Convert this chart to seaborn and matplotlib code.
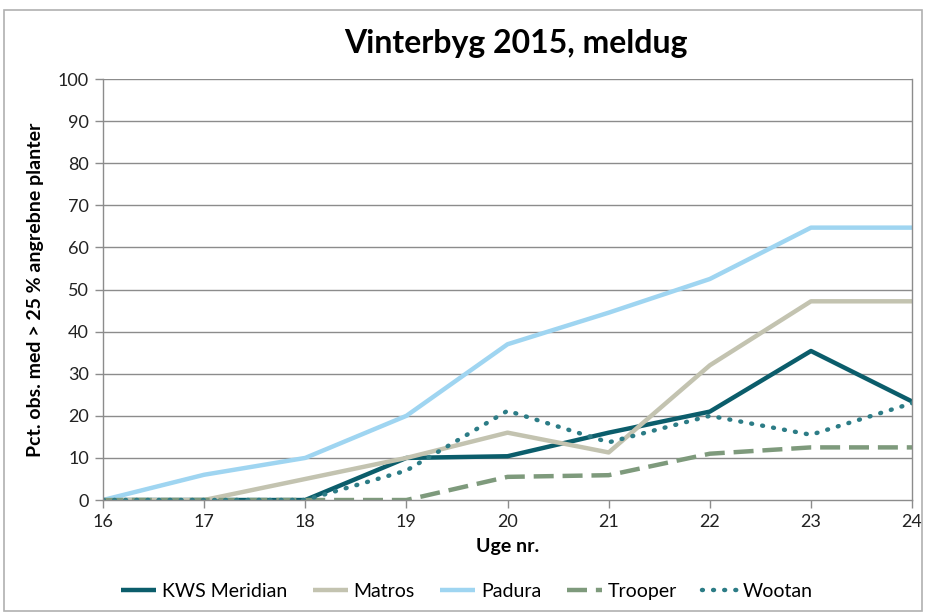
import matplotlib
matplotlib.use("Agg")
import matplotlib.pyplot as plt
import seaborn as sns
import pandas as pd
from matplotlib.patches import Rectangle

# data
uger = [16, 17, 18, 19, 20, 21, 22, 23, 24]
kws_meridian = [0, 0, 0, 10, 10.4, 16, 21, 35.4, 23.4]
matros = [0, 0, 5, 10, 16, 11.3, 32, 47.2, 47.2]
padura = [0, 6, 10, 20, 37, 44.5, 52.5, 64.7, 64.7]
trooper = [0, 0, 0, 0, 5.5, 5.9, 11, 12.5, 12.5]
wootan = [0, 0, 0, 7, 21.2, 13.7, 20, 15.5, 23]

sorter = ["KWS Meridian", "Matros", "Padura", "Trooper", "Wootan"]
farver = ["#0b5d6b", "#c3c3b0", "#9fd5f1", "#7e9a7c", "#2c7c86"]

df = pd.DataFrame({"Uge": uger, "KWS Meridian": kws_meridian, "Matros": matros,
                   "Padura": padura, "Trooper": trooper, "Wootan": wootan})
long = df.melt(id_vars="Uge", var_name="Sort", value_name="Pct")

sns.set_style("white")
plt.rcParams['font.family'] = ['Lato', 'DejaVu Sans']
plt.rcParams['text.color'] = 'black'

fig = plt.figure(figsize=(9.26, 6.13), dpi=100)
ax = fig.add_axes([0.1112, 0.1843, 0.8738, 0.6868])

# gridlines
for y in range(10, 101, 10):
    ax.axhline(y, color="#8c8c8c", lw=1, zorder=0)

stile = {"KWS Meridian": "-", "Matros": "-", "Padura": "-",
         "Trooper": (0, (4.5, 2.0)), "Wootan": (0, (0.2, 2.3))}
for sort, farve in zip(sorter, farver):
    d = long[long["Sort"] == sort]
    kw = dict(solid_capstyle="butt")
    if sort == "Wootan":
        kw = dict(dash_capstyle="round")
    sns.lineplot(data=d, x="Uge", y="Pct", ax=ax, color=farve, lw=3.2,
                 linestyle=stile[sort], label=sort, **kw)

ax.set_xlim(16, 24)
ax.set_ylim(0, 100)
ax.set_xticks(uger)
ax.set_yticks(range(0, 101, 10))
ax.tick_params(axis="both", direction="out", length=6, width=1, color="#8c8c8c",
               labelsize=13, labelcolor="#222222", pad=4, bottom=True, left=True)
for side in ["left", "bottom", "right"]:
    ax.spines[side].set_color("#8c8c8c")
    ax.spines[side].set_linewidth(1)
ax.spines["top"].set_visible(False)

ax.set_xlabel("Uge nr.", fontsize=14, fontweight="bold", labelpad=6, color="black")
ax.set_ylabel("Pct. obs. med > 25 % angrebne planter", fontsize=14, fontweight="bold",
              labelpad=10, color="black")
fig.suptitle("Vinterbyg 2015, meldug", x=0.557, y=0.952, fontsize=23, fontweight="bold")

ax.legend(loc="upper center", bbox_to_anchor=(0.45, -0.155), ncol=5, frameon=False,
          fontsize=14, handlelength=1.8, handletextpad=0.3, columnspacing=1.3)

# outer border of the chart
fig.patches.append(Rectangle((0.004, 0.004), 0.992, 0.98, transform=fig.transFigure,
                             fill=False, edgecolor="#b0b0b0", lw=1.2))

fig.savefig("out.png", dpi=100)
